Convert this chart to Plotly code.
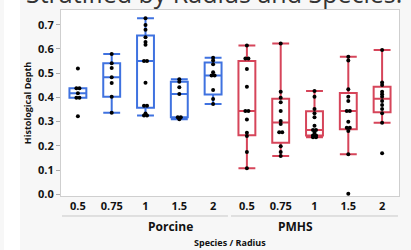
import numpy as np
import plotly.graph_objects as go

# ---- data ----
species = ["Porcine"] * 5 + ["PMHS"] * 5
radius_labels = ["0.5", "0.75", "1", "1.5", "2", "0.5", "0.75", "1", "1.5", "2"]
y_tick_labels = ["0.0", "0.1", "0.2", "0.3", "0.4", "0.5", "0.6", "0.7"]

porcine_05 = [0.519, 0.4375, 0.4375, 0.417, 0.399, 0.399, 0.322]
porcine_075 = [0.579, 0.541, 0.5215, 0.483, 0.4595, 0.403, 0.337]
porcine_1 = [0.727, 0.699, 0.679, 0.648, 0.629, 0.617, 0.550, 0.550, 0.460,
             0.365, 0.365, 0.333, 0.325, 0.325]
porcine_15 = [0.4746, 0.465, 0.4416, 0.414, 0.318, 0.318, 0.310]
porcine_2 = [0.564, 0.552, 0.537, 0.504, 0.490, 0.490, 0.4306, 0.393, 0.3727]
pmhs_05 = [0.614, 0.561, 0.561, 0.517, 0.444, 0.344, 0.344, 0.309, 0.254,
           0.2405, 0.174, 0.107]
pmhs_075 = [0.623, 0.4237, 0.399, 0.3796, 0.344, 0.3025, 0.290, 0.2557, 0.2557,
            0.1978, 0.1744, 0.158]
pmhs_1 = [0.4264, 0.403, 0.352, 0.334, 0.3176, 0.283, 0.265, 0.265, 0.254,
          0.243, 0.243, 0.235, 0.235]
pmhs_15 = [0.568, 0.552, 0.4335, 0.403, 0.385, 0.344, 0.344, 0.2997, 0.275,
           0.275, 0.261, 0.1647, 0.002]
pmhs_2 = [0.596, 0.462, 0.451, 0.4237, 0.4126, 0.403, 0.385, 0.3686, 0.352,
          0.334, 0.2956, 0.169]

groups = [porcine_05, porcine_075, porcine_1, porcine_15, porcine_2,
          pmhs_05, pmhs_075, pmhs_1, pmhs_15, pmhs_2]

colors = {"Porcine": "#3f72e0", "PMHS": "#d6455a"}


def jmp_stats(vals):
    v = np.sort(np.asarray(vals, dtype=float))
    q1, med, q3 = np.percentile(v, [25, 50, 75], method="weibull")
    iqr = q3 - q1
    lo = v[v >= q1 - 1.5 * iqr].min()
    hi = v[v <= q3 + 1.5 * iqr].max()
    return q1, med, q3, min(lo, q1), max(hi, q3)


fig = go.Figure()
for i, (vals, sp) in enumerate(zip(groups, species)):
    q1, med, q3, lo, hi = jmp_stats(vals)
    fig.add_trace(go.Box(
        x=[i], q1=[q1], median=[med], q3=[q3], lowerfence=[lo], upperfence=[hi],
        width=0.5, whiskerwidth=1, boxpoints=False,
        line=dict(color=colors[sp], width=2), fillcolor="rgba(0,0,0,0)",
        showlegend=False, hoverinfo="skip"))
    # points (duplicates placed side by side)
    xs, ys = [], []
    uniq, counts = np.unique(np.round(vals, 4), return_counts=True)
    for u, c in zip(uniq, counts):
        offs = (np.arange(c) - (c - 1) / 2) * 0.09
        xs.extend(i + offs)
        ys.extend([u] * c)
    fig.add_trace(go.Scatter(x=xs, y=ys, mode="markers",
                             marker=dict(color="black", size=4),
                             showlegend=False, hoverinfo="skip"))

FONT = "Open Sans, Noto Sans, sans-serif"
tick_font = dict(family=FONT, size=11, color="#111")

fig.update_layout(
    width=411, height=250,
    margin=dict(l=61, r=12, t=10, b=54),
    paper_bgcolor="#f7f7f7", plot_bgcolor="white",
    xaxis=dict(range=[-0.5, 9.5], tickmode="array", tickvals=list(range(10)),
               ticktext=[f"<b>{t}</b>" for t in radius_labels], tickfont=tick_font,
               ticks="", showgrid=False, zeroline=False, showline=True, mirror=True,
               linecolor="#cfcfcf", linewidth=1),
    yaxis=dict(range=[-0.0074, 0.761], tickmode="array",
               tickvals=[float(t) for t in y_tick_labels],
               ticktext=[f"<b>{t}</b>" for t in y_tick_labels],
               tickfont=tick_font, ticks="outside", ticklen=4, tickcolor="#aaaaaa",
               showgrid=False, zeroline=False, showline=True, mirror=True,
               linecolor="#cfcfcf", linewidth=1,
               title=dict(text="<b>Histological Depth</b>", standoff=4,
                          font=dict(family=FONT, size=9, color="#111"))),
)

# white strip at far left (window chrome of the source)
fig.add_shape(type="rect", xref="paper", yref="paper", x0=-0.1686, x1=-0.1213,
              y0=-0.4, y1=1.1, fillcolor="white", line=dict(width=0), layer="below")
# group underlines
fig.add_shape(type="line", xref="paper", yref="paper", x0=0.003, x1=0.494,
              y0=-0.1075, y1=-0.1075, line=dict(color="#c8c8c8", width=1))
fig.add_shape(type="line", xref="paper", yref="paper", x0=0.503, x1=0.997,
              y0=-0.1075, y1=-0.1075, line=dict(color="#c8c8c8", width=1))

grp_font = dict(family=FONT, size=12, color="#111")
fig.add_annotation(text="<b>Porcine</b>", xref="paper", yref="paper", x=0.25, y=-0.165,
                   showarrow=False, font=grp_font, yanchor="middle")
fig.add_annotation(text="<b>PMHS</b>", xref="paper", yref="paper", x=0.75, y=-0.165,
                   showarrow=False, font=grp_font, yanchor="middle")
fig.add_annotation(text="<b>Species / Radius</b>", xref="paper", yref="paper", x=0.5,
                   y=-0.251, showarrow=False, yanchor="middle",
                   font=dict(family=FONT, size=9, color="#111"))
fig.add_annotation(text="Stratified by Radius and Species.", xref="paper", yref="paper",
                   x=0.453, y=0.987, yanchor="bottom", showarrow=False,
                   font=dict(family=FONT, size=25, color="#333"))

fig.write_html("out.html", config={"displayModeBar": False},
               post_script="document.body.style.margin='0';document.body.style.overflow='hidden';")
